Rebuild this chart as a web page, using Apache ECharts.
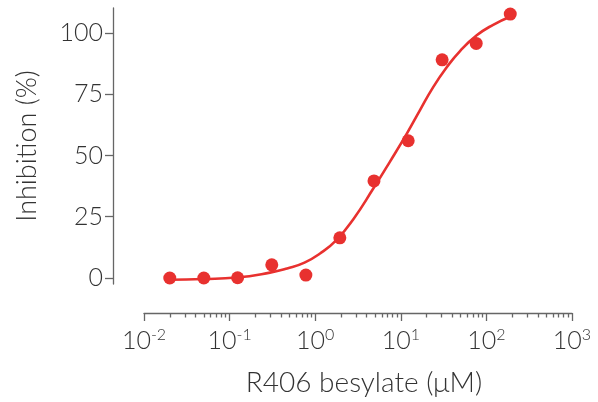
<!DOCTYPE html>
<html>
<head>
<meta charset="utf-8">
<script src="https://cdn.jsdelivr.net/npm/echarts@6/dist/echarts.min.js"></script>
<style>
html,body{margin:0;padding:0;background:#fff;}
#chart{width:598px;height:402px;}
</style>
</head>
<body>
<div id="chart"></div>
<script>
// Measured points
const concentrations = [0.02, 0.05, 0.124, 0.311, 0.778, 1.94, 4.86, 12.2, 30.4, 76, 190];
const inhibition = [0, 0, 0.1, 5.4, 1.2, 16.4, 39.6, 56.0, 89.0, 95.7, 107.7];
// Fitted curve
const fitX = [0.0201, 0.049, 0.12, 0.296, 0.47, 0.75, 1.14, 1.78, 2.79, 4.77, 7.48, 11.8, 16.7, 24.0, 34.4, 49.2, 77.1, 120, 189];
const fitY = [-0.7, -0.4, 0.2, 2.2, 3.9, 6.3, 10.0, 15.6, 24.0, 36.5, 47.5, 59.0, 68.4, 78.0, 86.0, 92.6, 99.0, 103.3, 106.6];
// Axis ticks
const yTicks = [0, 25, 50, 75, 100];
const xMajorTicks = [0.01, 0.1, 1, 10, 100, 1000];
const xMinorTicks = [];
xMajorTicks.slice(0, -1).forEach(function (d) {
  [2, 3, 4, 5, 6, 7, 8, 9].forEach(function (m) { xMinorTicks.push(+(d * m).toPrecision(3)); });
});

const RED = '#e8312f';
const AXIS = '#666666';
const TEXT = '#333333';
const FONT = 'Lato';

const chart = echarts.init(document.getElementById('chart'), null, {renderer: 'canvas'});
chart.setOption({
  animation: false,
  backgroundColor: '#ffffff',
  grid: {left: 144, right: 26, top: 8, bottom: 117, containLabel: false},
  xAxis: [{
    type: 'log', logBase: 10, min: 0.01, max: 1000,
    offset: 29, position: 'bottom',
    name: 'R406 besylate (μM)',
    nameLocation: 'middle', nameGap: 56,
    nameTextStyle: {fontFamily: FONT, fontWeight: 300, fontSize: 28, color: TEXT, padding: [0, 0, 0, 12]},
    axisLine: {show: true, onZero: false, lineStyle: {color: AXIS, width: 1.3}},
    axisTick: {show: true, length: 8, lineStyle: {color: AXIS, width: 1.3}, customValues: xMajorTicks},
    axisLabel: {
      margin: 14,
      customValues: xMajorTicks,
      formatter: function (v) {
        const e = Math.round(Math.log10(v));
        return '{b|10}{s|' + e + '}';
      },
      rich: {
        b: {fontFamily: FONT, fontWeight: 300, fontSize: 25, color: TEXT, lineHeight: 28},
        s: {fontFamily: FONT, fontWeight: 300, fontSize: 16, color: TEXT, verticalAlign: 'top', lineHeight: 16}
      }
    },
    splitLine: {show: false},
    minorTick: {show: false}
  }, {
    type: 'log', logBase: 10, min: 0.01, max: 1000,
    offset: 29, position: 'bottom',
    axisLine: {show: false, onZero: false},
    axisTick: {show: true, length: 4.5, lineStyle: {color: AXIS, width: 1.3}, customValues: xMinorTicks},
    axisLabel: {show: false},
    splitLine: {show: false}
  }],
  yAxis: {
    type: 'value', min: -2.44, max: 110.16,
    offset: 31,
    name: 'Inhibition (%)',
    nameLocation: 'middle', nameGap: 72, nameRotate: 90,
    nameTextStyle: {fontFamily: FONT, fontWeight: 300, fontSize: 27, color: TEXT},
    axisLine: {show: true, onZero: false, lineStyle: {color: AXIS, width: 1.3}},
    axisTick: {show: true, length: 8, lineStyle: {color: AXIS, width: 1.3}, customValues: yTicks},
    axisLabel: {margin: 10, customValues: yTicks, fontFamily: FONT, fontWeight: 300, fontSize: 25, color: TEXT},
    splitLine: {show: false}
  },
  series: [{
    type: 'line',
    data: fitX.map(function (x, i) { return [x, fitY[i]]; }),
    smooth: 0.5,
    showSymbol: false,
    lineStyle: {color: RED, width: 2.6},
    z: 2
  }, {
    type: 'scatter',
    data: concentrations.map(function (x, i) { return [x, inhibition[i]]; }),
    symbol: 'circle', symbolSize: 13,
    itemStyle: {color: RED, opacity: 1},
    z: 3
  }]
});
</script>
</body>
</html>
